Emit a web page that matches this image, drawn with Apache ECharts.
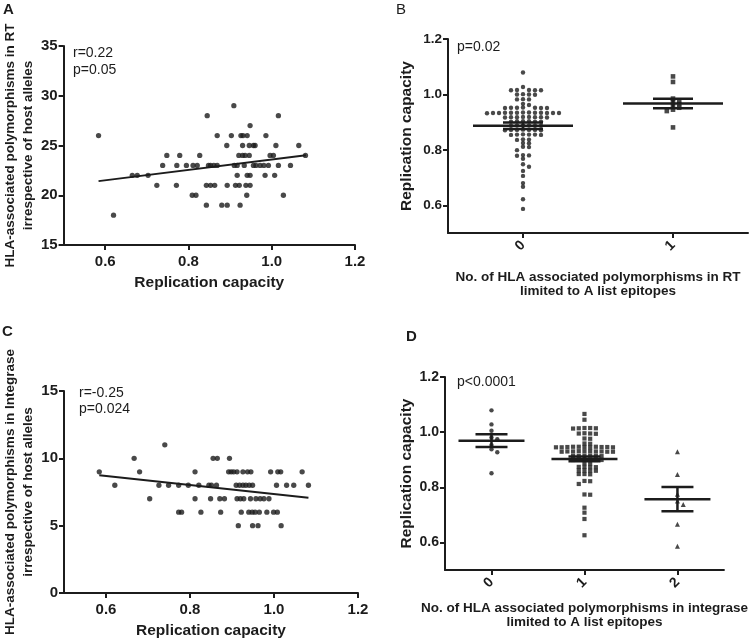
<!DOCTYPE html>
<html><head><meta charset="utf-8">
<script src="https://cdn.jsdelivr.net/npm/echarts@6/dist/echarts.min.js"></script>
<style>html,body{margin:0;padding:0;background:#fff}#c{width:750px;height:644px}</style>
</head><body><div id="c"></div>
<script>
// ---------- DATA ----------
// Panel A: replication capacity (x) vs HLA-associated polymorphisms in RT (y)
const aX = [0.909,
  0.845,1.016,
  0.948,
  0.584,0.869,0.903,0.926,0.931,0.941,0.986,
  0.892,0.930,0.946,0.956,0.960,1.010,1.065,
  0.748,0.779,0.827,0.921,0.930,0.936,0.946,0.996,1.004,1.081,
  0.738,0.772,0.795,0.811,0.821,0.848,0.853,0.861,0.869,0.910,0.917,0.934,0.956,0.962,0.972,0.981,0.992,1.016,1.045,
  0.665,0.677,0.703,0.917,0.941,0.948,0.984,1.007,
  0.724,0.771,0.843,0.853,0.863,0.893,0.913,0.922,0.938,0.948,
  0.809,0.818,0.940,1.028,
  0.843,0.880,0.893,0.924,
  0.620];
const aY = [29,
  28,28,
  27,
  26,26,26,26,26,26,26,
  25,25,25,25,25,25,25,
  24,24,24,24,24,24,24,24,24,24,
  23,23,23,23,23,23,23,23,23,23,23,23,23,23,23,23,23,23,23,
  22,22,22,22,22,22,22,22,
  21,21,21,21,21,21,21,21,21,21,
  20,20,20,20,
  19,19,19,19,
  18];
const aFitX = [0.584, 1.082];
const aFitY = [21.42, 24.03];
const aStats = ['r=0.22', 'p=0.05'];

// Panel C: replication capacity (x) vs HLA-associated polymorphisms in Integrase (y)
const cX = [0.740,
  0.667,0.855,0.865,0.894,
  0.584,0.680,0.812,0.892,0.898,0.904,0.912,0.926,0.937,0.945,0.992,1.009,1.016,1.067,
  0.621,0.726,0.749,0.773,0.796,0.821,0.845,0.851,0.863,0.910,0.918,0.926,0.933,0.941,0.949,1.006,1.030,1.047,1.082,
  0.704,0.812,0.849,0.871,0.882,0.912,0.920,0.928,0.944,0.957,0.967,0.976,0.988,
  0.773,0.780,0.826,0.873,0.922,0.940,0.948,0.955,0.965,0.983,0.999,1.008,
  0.915,0.949,0.962,1.017];
const cY = [11,
  10,10,10,10,
  9,9,9,9,9,9,9,9,9,9,9,9,9,9,
  8,8,8,8,8,8,8,8,8,8,8,8,8,8,8,8,8,8,8,
  7,7,7,7,7,7,7,7,7,7,7,7,7,
  6,6,6,6,6,6,6,6,6,6,6,6,
  5,5,5,5];
const cFitX = [0.584, 1.082];
const cFitY = [8.74, 7.08];
const cStats = ['r=-0.25', 'p=0.024'];

// Panel B: replication capacity by no. of A-list RT polymorphisms
const bCats = ['0', '1'];
const bGroup0 = [1.079,
  1.027,
  1.016,1.016,1.015,1.015,1.015,
  1.001,1.000,1.000,0.999,
  0.983,0.982,0.982,
  0.966,0.962,
  0.953,0.952,0.952,0.952,0.951,0.951,0.951,
  0.935,0.935,0.934,0.934,0.934,0.934,0.934,0.933,0.933,0.933,0.933,0.933,0.932,
  0.919,0.919,0.918,0.918,0.918,0.918,0.917,0.917,
  0.903,0.903,0.903,0.902,0.902,0.902,
  0.888,0.888,0.888,0.887,0.887,0.887,
  0.873,0.872,0.872,0.872,0.872,0.871,0.871,
  0.856,0.855,0.855,0.855,0.854,0.854,
  0.838,0.837,0.836,0.825,0.824,0.811,0.810,0.799,
  0.781,0.780,0.779,0.768,0.748,0.739,0.724,0.706,0.680,0.667,0.622,0.587];
const bGroup1 = [1.065,1.045,0.985,0.978,0.972,0.965,0.958,0.952,0.945,0.940,0.881];
const bMean = [0.887, 0.967];
const bSem = [0.012, 0.017];
const bStat = 'p=0.02';

// Panel D: replication capacity by no. of A-list integrase polymorphisms
const dCats = ['0', '1', '2'];
const dGroup0 = [1.079,1.028,1.005,0.981,0.974,0.953,0.938,0.927,0.851];
const dGroup1 = [1.066,1.045,
  1.015,1.015,1.014,1.014,1.013,
  0.996,0.995,0.995,0.994,
  0.977,0.976,
  0.959,0.958,
  0.947,0.947,0.947,0.946,0.946,0.946,0.946,0.945,0.945,0.945,0.945,
  0.931,0.931,0.931,0.930,0.930,0.930,0.930,0.929,0.929,0.929,
  0.915,0.915,0.914,0.914,0.914,0.913,
  0.900,0.900,0.900,0.899,0.899,0.899,
  0.887,0.886,
  0.874,0.874,0.873,0.873,
  0.861,0.861,0.860,0.860,
  0.848,0.848,0.847,
  0.823,0.822,0.812,
  0.774,0.773,
  0.726,0.708,0.685,0.626];
const dGroup2 = [0.929,0.846,0.775,0.750,0.738,0.666,0.586];
const dMean = [0.969, 0.903, 0.757];
const dSem = [0.023, 0.009, 0.044];
const dStat = 'p<0.0001';

const rcTicks = [0.6, 0.8, 1.0, 1.2];

// ---------- LAYOUT / STYLE ----------
const FONT = '"Liberation Sans", Arial, Helvetica, sans-serif';
const INK = '#1c1c1c';
const grids = [
  {left: 60, top: 46, width: 295, height: 199},   // A
  {left: 448, top: 39, width: 300, height: 194},  // B
  {left: 61, top: 391, width: 297, height: 202},  // C
  {left: 445, top: 377, width: 288, height: 193}  // D
];

// column-scatter layout: points whose pixel rows overlap (|dy| < h) are set side by side
function swarmData(cat, values, pxPerUnit, d, h) {
  const order = values.map((v, i) => i).sort((a, b) => values[b] - values[a]);
  const placed = [];
  const off = new Array(values.length);
  for (const i of order) {
    const y = values[i] * pxPerUnit;
    for (let k = 0; ; k++) {
      const step = Math.ceil(k / 2);
      const cand = k === 0 ? 0 : (k % 2 === 1 ? step * d : -step * d);
      let ok = true;
      for (const p of placed) {
        if (Math.abs(p.x - cand) < d * 0.99 && Math.abs(p.y - y) < h) { ok = false; break; }
      }
      if (ok) { off[i] = cand; placed.push({x: cand, y}); break; }
    }
  }
  return values.map((v, i) => ({value: [cat, v], symbolOffset: [off[i], 0]}));
}

const axisLine = {show: true, onZero: false, lineStyle: {color: INK, width: 2}};
const tickStyle = {show: true, length: 5, inside: false, lineStyle: {color: INK, width: 2}};
function lbl(size, extra) {
  return Object.assign({color: INK, fontFamily: FONT, fontWeight: 'bold', fontSize: size}, extra || {});
}
function nameStyle(size, lh) {
  return {color: INK, fontFamily: FONT, fontWeight: 'bold', fontSize: size, lineHeight: lh};
}

function errRender(halfMean, halfSem) {
  return function (params, api) {
    const c = api.value(0), m = api.value(1), s = api.value(2);
    const pm = api.coord([c, m]);
    const pt = api.coord([c, m + s]);
    const pb = api.coord([c, m - s]);
    const style = {stroke: INK, lineWidth: 2.5, fill: null};
    return {type: 'group', children: [
      {type: 'line', shape: {x1: pm[0] - halfMean, y1: pm[1], x2: pm[0] + halfMean, y2: pm[1]}, style},
      {type: 'line', shape: {x1: pt[0] - halfSem, y1: pt[1], x2: pt[0] + halfSem, y2: pt[1]}, style},
      {type: 'line', shape: {x1: pb[0] - halfSem, y1: pb[1], x2: pb[0] + halfSem, y2: pb[1]}, style},
      {type: 'line', shape: {x1: pt[0], y1: pt[1], x2: pb[0], y2: pb[1]}, style}
    ]};
  };
}

const bPx = grids[1].height / 0.7;
const dPx = grids[3].height / 0.7;

const rcAxis = (gi, gap) => ({
  gridIndex: gi, type: 'value', min: 0.5, max: 1.2,
  axisLine, splitLine: {show: false},
  axisTick: Object.assign({customValues: rcTicks}, tickStyle),
  axisLabel: lbl(15, {customValues: rcTicks, margin: 9, formatter: v => v.toFixed(1)}),
  name: 'Replication capacity', nameLocation: 'middle', nameGap: gap,
  nameTextStyle: nameStyle(15.5, 18)
});
const rcYAxis = (gi, size, gap) => ({
  gridIndex: gi, type: 'value', min: 0.5, max: 1.2,
  axisLine, splitLine: {show: false},
  axisTick: Object.assign({customValues: rcTicks}, tickStyle),
  axisLabel: lbl(size, {customValues: rcTicks, margin: 6, formatter: v => v.toFixed(1)}),
  name: 'Replication capacity', nameLocation: 'middle', nameGap: gap, nameRotate: 90,
  nameTextStyle: nameStyle(15.5, 18)
});
const catAxis = (gi, cats, name, gap) => ({
  gridIndex: gi, type: 'category', data: cats, boundaryGap: true,
  axisLine, splitLine: {show: false},
  axisTick: Object.assign({alignWithLabel: true}, tickStyle),
  axisLabel: lbl(14, {rotate: 45, margin: 10}),
  name, nameLocation: 'middle', nameGap: gap,
  nameTextStyle: nameStyle(13.5, 14)
});

const option = {
  backgroundColor: '#fff',
  animation: false,
  grid: grids,
  xAxis: [
    rcAxis(0, 29),
    catAxis(1, bCats, 'No. of HLA associated polymorphisms in RT\nlimited to A list epitopes', 37),
    rcAxis(2, 29),
    catAxis(3, dCats, 'No. of HLA associated polymorphisms in integrase\nlimited to A list epitopes', 31)
  ],
  yAxis: [
    {gridIndex: 0, type: 'value', min: 15, max: 35, interval: 5,
      axisLine, splitLine: {show: false}, axisTick: tickStyle,
      axisLabel: lbl(15, {margin: 6}),
      name: 'HLA-associated polymorphisms in RT\nirrespective of host alleles',
      nameLocation: 'middle', nameGap: 26, nameRotate: 90, nameTextStyle: nameStyle(13.5, 18)},
    rcYAxis(1, 13.5, 32),
    {gridIndex: 2, type: 'value', min: 0, max: 15, interval: 5,
      axisLine, splitLine: {show: false}, axisTick: tickStyle,
      axisLabel: lbl(15, {margin: 6}),
      name: 'HLA-associated polymorphisms in Integrase\nirrespective of host alleles',
      nameLocation: 'middle', nameGap: 27, nameRotate: 90, nameTextStyle: nameStyle(13.5, 18)},
    rcYAxis(3, 14, 29)
  ],
  series: [
    {type: 'scatter', xAxisIndex: 0, yAxisIndex: 0, symbol: 'circle', symbolSize: 5.3,
      itemStyle: {color: INK}, data: aX.map((x, i) => [x, aY[i]])},
    {type: 'line', xAxisIndex: 0, yAxisIndex: 0, symbol: 'none',
      lineStyle: {color: INK, width: 2}, data: aFitX.map((x, i) => [x, aFitY[i]])},
    {type: 'scatter', xAxisIndex: 2, yAxisIndex: 2, symbol: 'circle', symbolSize: 5.3,
      itemStyle: {color: INK}, data: cX.map((x, i) => [x, cY[i]])},
    {type: 'line', xAxisIndex: 2, yAxisIndex: 2, symbol: 'none',
      lineStyle: {color: INK, width: 2}, data: cFitX.map((x, i) => [x, cFitY[i]])},
    {type: 'scatter', xAxisIndex: 1, yAxisIndex: 1, symbol: 'circle', symbolSize: 4.4,
      itemStyle: {color: INK}, data: swarmData(0, bGroup0, bPx, 6, 3.5)},
    {type: 'scatter', xAxisIndex: 1, yAxisIndex: 1, symbol: 'rect', symbolSize: 4.6,
      itemStyle: {color: INK}, data: swarmData(1, bGroup1, bPx, 6.2, 3.5)},
    {type: 'custom', xAxisIndex: 1, yAxisIndex: 1, z: 5, renderItem: errRender(50, 20),
      encode: {x: 0, y: 1}, data: bMean.map((m, i) => [i, m, bSem[i]])},
    {type: 'scatter', xAxisIndex: 3, yAxisIndex: 3, symbol: 'circle', symbolSize: 4.4,
      itemStyle: {color: INK}, data: swarmData(0, dGroup0, dPx, 5.8, 3.5)},
    {type: 'scatter', xAxisIndex: 3, yAxisIndex: 3, symbol: 'rect', symbolSize: 4.2,
      itemStyle: {color: INK}, data: swarmData(1, dGroup1, dPx, 5.7, 3.5)},
    {type: 'scatter', xAxisIndex: 3, yAxisIndex: 3, symbol: 'triangle', symbolSize: 5,
      itemStyle: {color: INK}, data: swarmData(2, dGroup2, dPx, 5.8, 3.5)},
    {type: 'custom', xAxisIndex: 3, yAxisIndex: 3, z: 5, renderItem: errRender(33, 16),
      encode: {x: 0, y: 1}, data: dMean.map((m, i) => [i, m, dSem[i]])}
  ],
  graphic: [
    {type: 'text', left: 3, top: 2, style: {text: 'A', font: 'bold 15px ' + FONT, fill: INK}},
    {type: 'text', left: 396, top: 2, style: {text: 'B', font: '15px ' + FONT, fill: INK}},
    {type: 'text', left: 2, top: 324, style: {text: 'C', font: 'bold 15px ' + FONT, fill: INK}},
    {type: 'text', left: 406, top: 329, style: {text: 'D', font: 'bold 15px ' + FONT, fill: INK}},
    {type: 'text', left: 73, top: 45, style: {text: aStats.join('\n'), font: '14px ' + FONT, lineHeight: 17, fill: INK}},
    {type: 'text', left: 79, top: 385, style: {text: cStats.join('\n'), font: '14px ' + FONT, lineHeight: 16, fill: INK}},
    {type: 'text', left: 457, top: 40, style: {text: bStat, font: '14px ' + FONT, fill: INK}},
    {type: 'text', left: 457, top: 375, style: {text: dStat, font: '14px ' + FONT, fill: INK}}
  ]
};

const chart = echarts.init(document.getElementById('c'), null, {renderer: 'canvas'});
chart.setOption(option);
</script>
</body></html>
